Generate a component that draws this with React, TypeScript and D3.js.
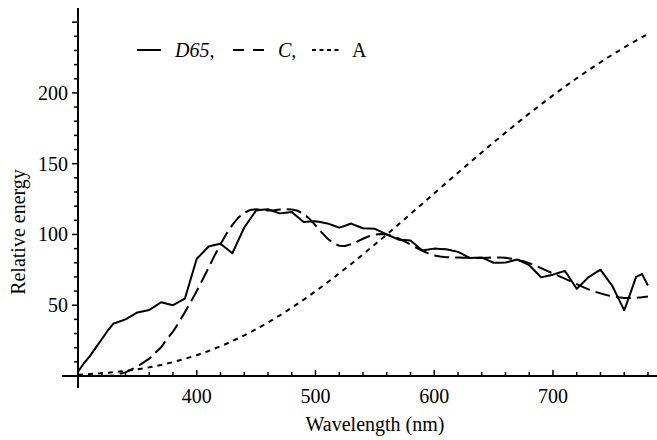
import * as d3 from 'd3';

// Relative spectral power of the three CIE illuminants
const d65Values = [
  3, 9, 14, 20, 26, 32, 37.1, 38.5, 40.0, 42.4, 44.9, 45.8, 46.6, 49.4, 52.1, 51.0,
  50.0, 52.3, 54.6, 68.7, 82.8, 87.1, 91.5, 92.5, 93.4, 90.1, 86.7, 95.8, 104.9, 110.9,
  117.0, 117.4, 117.8, 116.3, 114.9, 115.4, 115.9, 112.4, 108.8, 109.1, 109.4, 108.6,
  107.8, 106.3, 104.8, 106.2, 107.7, 106.0, 104.4, 104.2, 104.0, 102.0, 100.0, 98.2,
  96.3, 96.1, 95.8, 92.2, 88.7, 89.3, 90.0, 89.8, 89.6, 88.6, 87.7, 85.5, 83.3, 83.5,
  83.7, 81.9, 80.0, 80.1, 80.2, 81.2, 82.3, 80.3, 78.3, 74.0, 69.7, 70.7, 71.6, 73.0,
  74.3, 68.0, 61.6, 65.7, 69.9, 72.5, 75.1, 69.3, 63.6, 55.0, 46.4, 58, 70, 72, 64,
];

const cValues = [
  0, 0, 0, 0, 0.01, 0.19, 0.38, 1.47, 2.56, 4.61, 6.65, 9.45, 12.25, 16.33, 20.32,
  26.12, 31.34, 37.91, 45.01, 52.39, 60.11, 68.2, 76.54, 85.02, 93.16, 100.47, 106.74,
  111.82, 115.38, 117.24, 117.76, 117.38, 116.9, 117.09, 117.57, 117.85, 117.66, 116.73,
  114.62, 111.02, 106.46, 101.6, 97.15, 93.84, 92.02, 91.91, 93.07, 94.91, 96.96, 98.72,
  99.91, 100.35, 100.0, 98.87, 97.15, 95.11, 92.88, 90.62, 88.51, 86.63, 85.19, 84.36,
  83.95, 83.75, 83.67, 83.63, 83.57, 83.44, 83.38, 83.56, 83.76, 83.76, 83.48, 82.83,
  81.96, 81.01, 79.77, 78.07, 76.16, 74.3, 72.46, 70.62, 68.76, 66.86, 64.86, 62.96,
  61.16, 59.64, 58.4, 57.17, 56.22, 55.56, 55.18, 55.08, 55.27, 55.56, 56.13,
];

const aValues = [
  0.93, 1.36, 1.93, 2.66, 3.59, 4.74, 6.14, 7.82, 9.8, 12.09, 14.71, 17.68, 21.0, 24.67,
  28.7, 33.09, 37.81, 42.87, 48.24, 53.91, 59.86, 66.06, 72.5, 79.13, 85.95, 92.91, 100.0,
  107.18, 114.44, 121.73, 129.04, 136.35, 143.62, 150.84, 157.98, 165.03, 171.96, 178.77,
  185.43, 191.93, 198.26, 204.41, 210.36, 216.12, 221.67, 227.0, 232.12, 237.01, 241.68,
];

// wavelength grids (nm) the series are sampled on
const grid5 = d3.range(300, 781, 5);
const grid10 = d3.range(300, 781, 10);

const xTicks = [400, 500, 600, 700];
const yTicks = [50, 100, 150, 200];

const width = 657;
const height = 440;
const font = 'Liberation Serif';

function App() {
  const x = d3.scaleLinear().domain([300, 787.6]).range([78, 657]);
  const y = d3.scaleLinear().domain([0, 260]).range([376, 8]);

  const line = d3
    .line<[number, number]>()
    .x((d) => x(d[0]))
    .y((d) => y(d[1]));

  const d65 = line(grid5.map((w, i) => [w, d65Values[i]]));
  const c = line(grid5.map((w, i) => [w, cValues[i]]));
  const a = line(grid10.map((w, i) => [w, aValues[i]]));

  const xMinor = d3.range(320, 787, 20);
  const yMinor = d3.range(10, 251, 10);

  return (
    <svg
      width={width}
      height={height}
      style={{ position: 'absolute', left: 0, top: 0, background: '#fff' }}
    >
      {/* curves */}
      <path d={a!} fill="none" stroke="#000" strokeWidth={2} strokeDasharray="5,5" />
      <path d={c!} fill="none" stroke="#000" strokeWidth={2} strokeDasharray="15,6" />
      <path d={d65!} fill="none" stroke="#000" strokeWidth={2} strokeLinejoin="round" />

      {/* axes */}
      <line x1={62} x2={657} y1={y(0)} y2={y(0)} stroke="#000" strokeWidth={2} />
      <line x1={x(300)} x2={x(300)} y1={8} y2={388} stroke="#000" strokeWidth={2} />

      {xMinor.map((t) => (
        <line
          key={'xt' + t}
          x1={x(t)}
          x2={x(t)}
          y1={y(0)}
          y2={y(0) - (t % 100 === 0 ? 6 : 4)}
          stroke="#000"
          strokeWidth={1.5}
        />
      ))}
      {yMinor.map((t) => (
        <line
          key={'yt' + t}
          x1={x(300)}
          x2={x(300) - (t % 50 === 0 ? 6 : 4)}
          y1={y(t)}
          y2={y(t)}
          stroke="#000"
          strokeWidth={1.5}
        />
      ))}

      {xTicks.map((t) => (
        <text key={'xl' + t} x={x(t)} y={403} fontSize={20} fontFamily={font} textAnchor="middle">
          {t}
        </text>
      ))}
      {yTicks.map((t) => (
        <text key={'yl' + t} x={68} y={y(t) + 7} fontSize={20} fontFamily={font} textAnchor="end">
          {t}
        </text>
      ))}

      <text x={375} y={431} fontSize={20} fontFamily={font} textAnchor="middle">
        Wavelength (nm)
      </text>
      <text
        transform="translate(25, 232) rotate(-90)"
        fontSize={20}
        fontFamily={font}
        textAnchor="middle"
      >
        Relative energy
      </text>

      {/* legend */}
      <g fontSize={20} fontFamily={font}>
        <line x1={137} x2={161} y1={50} y2={50} stroke="#000" strokeWidth={2} />
        <text x={175} y={57} fontStyle="italic">D65,</text>
        <line x1={233} x2={264} y1={50} y2={50} stroke="#000" strokeWidth={2} strokeDasharray="11,9" />
        <text x={278} y={57} fontStyle="italic">C,</text>
        <line x1={312} x2={339} y1={50} y2={50} stroke="#000" strokeWidth={2} strokeDasharray="4,3.5" />
        <text x={352} y={57}>A</text>
      </g>
    </svg>
  );
}

export default App;
